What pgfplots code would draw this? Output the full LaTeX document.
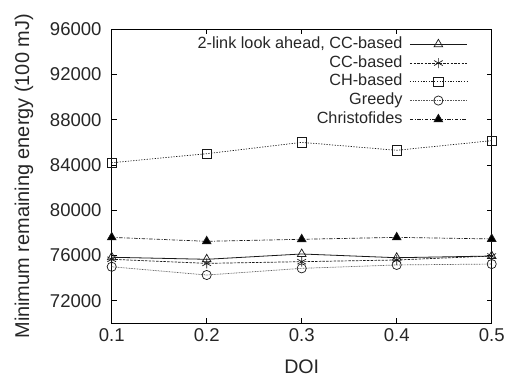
\documentclass[border=0pt]{standalone}
\usepackage{pgfplots}
\pgfplotsset{compat=1.18}
\usepackage{fontspec}
\setmainfont{Liberation Sans}
\begin{document}
\begin{tikzpicture}
\begin{axis}[
  at={(0,0)}, anchor=south west,
  scale only axis, width=380bp, height=294bp,
  xmin=0.1, xmax=0.5, ymin=70000, ymax=96000,
  xtick={0.1,0.2,0.3,0.4,0.5},
  ytick={72000,76000,80000,84000,88000,92000,96000},
  xticklabels={0.1,0.2,0.3,0.4,0.5},
  scaled ticks=false,
  tick align=inside, major tick length=5bp,
  tick style={black, line width=0.6bp},
  axis line style={black, line width=1bp},
  /pgf/number format/assume math mode=true,
  /pgf/number format/set thousands separator={},
  /pgf/number format/fixed,
  ticklabel style={font=\fontsize{18.6}{21}\selectfont, text=black!85},
  yticklabel style={inner sep=0pt, xshift=-10bp},
  xticklabel style={inner sep=0pt, yshift=-5bp},
  xlabel={DOI}, ylabel={Minimum remaining energy (100 mJ)},
  xlabel style={font=\fontsize{19.7}{22}\selectfont, text=black!85, at={(axis description cs:0.5,-0.1476)}, anchor=center},
  ylabel style={font=\fontsize{20}{23}\selectfont, text=black!85, at={(axis description cs:-0.2308,0.5)}, anchor=center, rotate=0},
  clip=false,
  legend cell align=right,
  legend plot pos=right,
  legend image code/.code={\draw[mark repeat=2,mark phase=2,#1] plot coordinates {(0bp,0bp) (28.5bp,0bp) (57bp,0bp)};},
  legend style={at={(1,1)}, anchor=north east, xshift=-24.4bp, yshift=-7.5bp,
    draw=none, fill=none, inner sep=0pt, outer sep=0pt,
    font=\fontsize{16.3}{18}\selectfont, text=black!85,
    column sep=7bp, row sep=3.75bp,
    nodes={inner sep=0pt, text height=11.5bp, text depth=3.5bp}},
]
\addplot[black!90, line width=0.8bp, mark=triangle, mark size=5bp, mark options={solid, line width=0.7bp}]
  coordinates {(0.1,75840) (0.2,75660) (0.3,76130) (0.4,75800) (0.5,75950)};
\addlegendentry{2-link look ahead, CC-based}
\addplot[black!90, line width=0.7bp, dash pattern=on 2.5bp off 1.2bp, mark=asterisk, mark size=5bp, mark options={solid, line width=0.7bp}]
  coordinates {(0.1,75660) (0.2,75300) (0.3,75450) (0.4,75600) (0.5,75950)};
\addlegendentry{CC-based}
\addplot[black!90, line width=0.7bp, dash pattern=on 1.2bp off 1.5bp, mark=square, mark size=4.7bp, mark options={solid, line width=0.7bp}]
  coordinates {(0.1,84200) (0.2,85000) (0.3,86000) (0.4,85300) (0.5,86150)};
\addlegendentry{CH-based}
\addplot[black!65, line width=0.7bp, dash pattern=on 0.8bp off 0.8bp, mark=o, mark size=4.6bp, mark options={solid, black!90, line width=0.7bp}]
  coordinates {(0.1,75000) (0.2,74270) (0.3,74860) (0.4,75160) (0.5,75240)};
\addlegendentry{Greedy}
\addplot[black!90, line width=0.7bp, dash pattern=on 3.5bp off 1.5bp on 1bp off 1.5bp, mark=triangle*, mark size=5bp, mark options={solid, fill=black}]
  coordinates {(0.1,77600) (0.2,77250) (0.3,77430) (0.4,77600) (0.5,77460)};
\addlegendentry{Christofides}
\end{axis}
\path[use as bounding box] (-111.7bp,-55.7bp) rectangle (396.3bp,323.3bp);
\end{tikzpicture}
\end{document}
